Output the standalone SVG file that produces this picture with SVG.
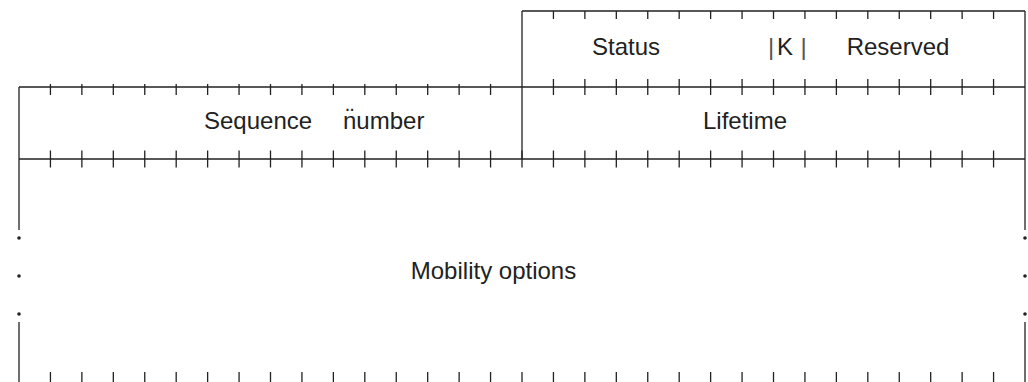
<svg xmlns="http://www.w3.org/2000/svg" width="1028" height="382" viewBox="0 0 1028 382">
  <style>
    .rule { fill: none; stroke: #222; stroke-width: 1.3; }
    .tick { fill: none; stroke: #222; stroke-dasharray: 1.3 30.1375; }
    .label { font-family: "Liberation Sans", Arial, sans-serif; font-size: 24px; fill: #222; text-anchor: middle; }
    .plain { font-family: "Liberation Sans", Arial, sans-serif; font-size: 24px; fill: #222; }
    .bar { fill: #555; }
    .dot { fill: #222; }
  </style>

  <!-- Word outlines and bit ticks (32 bits per row, 31.44 px per bit) -->
  <g id="frame">
    <!-- horizontal word boundaries -->
    <path class="rule" d="M522,11 H1025 M19,87 H1025 M19,159 H1025"/>
    <!-- vertical edges -->
    <path class="rule" d="M522,11 V159 M1025,11 V230 M1025,322 V382 M19,87 V230 M19,322 V382"/>
    <!-- continuation dots on both sides of the options area -->
    <circle class="dot" cx="19" cy="238" r="1.8"/>
    <circle class="dot" cx="19" cy="276" r="1.8"/>
    <circle class="dot" cx="19" cy="314" r="1.8"/>
    <circle class="dot" cx="1025" cy="238" r="1.8"/>
    <circle class="dot" cx="1025" cy="276" r="1.8"/>
    <circle class="dot" cx="1025" cy="314" r="1.8"/>
    <!-- ticks: top edge of first word (hang down) -->
    <path class="tick" stroke-width="8" d="M552.79,15 H1000"/>
    <!-- ticks: top edge of sequence word (hang down) -->
    <path class="tick" stroke-width="11" d="M49.79,89.5 H500"/>
    <!-- ticks: boundary between first and second word (cross) -->
    <path class="tick" stroke-width="16" d="M552.79,87 H1000"/>
    <!-- ticks: boundary before options (cross) -->
    <path class="tick" stroke-width="17" d="M49.79,159 H1000"/>
    <!-- ticks: bottom row -->
    <path class="tick" stroke-width="10" d="M49.79,377 H1000"/>
  </g>

  <g id="field-status">
    <text class="label" x="626" y="55">Status</text>
  </g>
  <g id="field-k">
    <text class="plain" y="55"><tspan class="bar" x="768">|</tspan><tspan x="777">K</tspan><tspan class="bar" x="800.5">|</tspan></text>
  </g>
  <g id="field-reserved">
    <text class="label" x="898" y="55">Reserved</text>
  </g>
  <g id="field-sequence-number">
    <text class="plain" y="129"><tspan x="204">Sequence</tspan><tspan x="343">n̈umber</tspan></text>
  </g>
  <g id="field-lifetime">
    <text class="label" x="745" y="129">Lifetime</text>
  </g>
  <g id="field-mobility-options">
    <text class="label" x="493.5" y="279">Mobility options</text>
  </g>
</svg>
